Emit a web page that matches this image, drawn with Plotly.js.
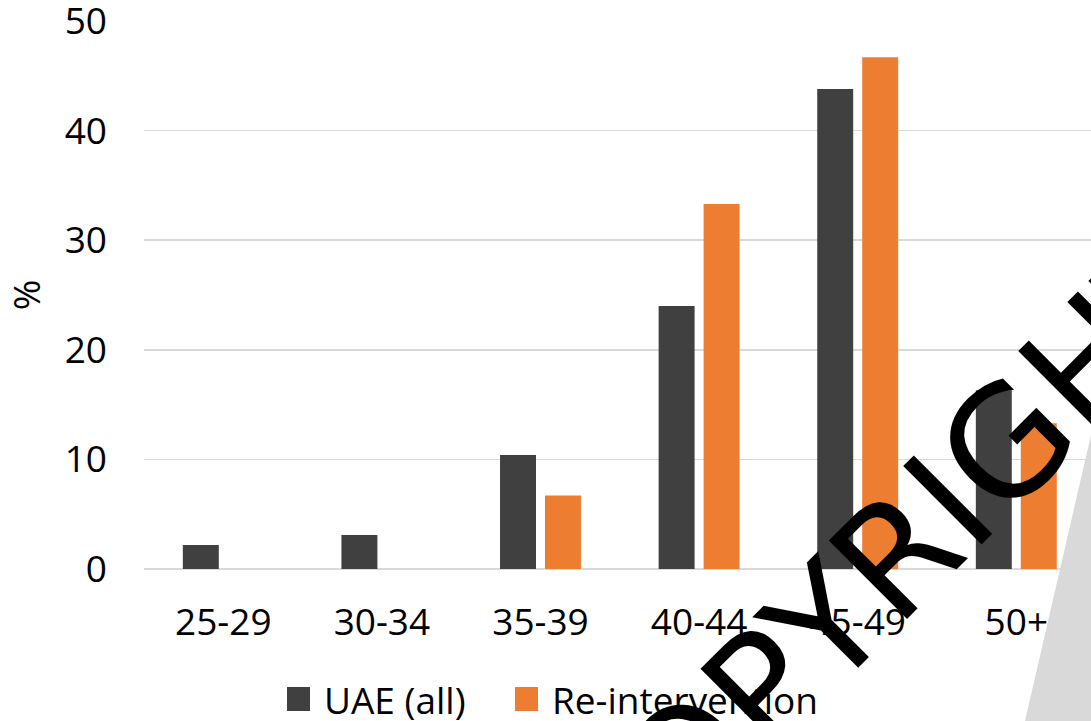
<!DOCTYPE html>
<html>
<head>
<meta charset="utf-8">
<script src="https://cdn.plot.ly/plotly-3.0.1.min.js"></script>
<style>
  html, body { margin: 0; padding: 0; background: #ffffff; overflow: hidden; }
  #chart { width: 1091px; height: 721px; }
</style>
</head>
<body>
<div id="chart"></div>
<script>
// Age groups and the share (%) of each series falling in them
const categories = ['25-29', '30-34', '35-39', '40-44', '45-49', '50+'];
const uaeAll = [2.2, 3.1, 10.4, 24.0, 43.8, 16.3];
const reIntervention = [0, 0, 6.7, 33.3, 46.7, 13.3];

const seriesNames = ['UAE (all)', 'Re-intervention'];
const seriesColors = ['#404040', '#ED7D31'];
const yTickValues = [0, 10, 20, 30, 40, 50];
const yTitle = '%';
const stampText = 'COPYRIGHT';

// Page geometry in pixels
const W = 1091, H = 721;
const M = { l: 144, r: 0, t: 21, b: 152 };
const plotW = W - M.l - M.r, plotH = H - M.t - M.b;
const fx = p => (p - M.l) / plotW;          // pixel x -> paper x
const fy = p => (H - M.b - p) / plotH;      // pixel y -> paper y

const FONT = 'Open Sans, Lato, sans-serif';
const FS = 37;

const traces = [
  { type: 'bar', name: seriesNames[0], x: categories, y: uaeAll,
    marker: { color: seriesColors[0] }, showlegend: false, hoverinfo: 'x+y+name' },
  { type: 'bar', name: seriesNames[1], x: categories, y: reIntervention,
    marker: { color: seriesColors[1] }, showlegend: false, hoverinfo: 'x+y+name' }
];

// Legend row drawn below the axis: swatch + label per series
const legendSwatchX = [287, 515];
const legendLabelX = [322, 550];
const legendY = 699;
const shapes = [];
const annotations = [];
seriesNames.forEach((name, i) => {
  shapes.push({
    type: 'rect', xref: 'paper', yref: 'paper',
    x0: fx(legendSwatchX[i]), x1: fx(legendSwatchX[i] + 23),
    y0: fy(legendY - 12), y1: fy(legendY + 12),
    fillcolor: seriesColors[i], line: { width: 0 }
  });
  annotations.push({
    xref: 'paper', yref: 'paper', x: fx(legendLabelX[i]), y: fy(legendY),
    xanchor: 'left', yanchor: 'middle', showarrow: false, height: 42,
    text: name, font: { family: FONT, size: FS, color: '#000000' }
  });
});

// Grey corner wedge and the diagonal stamp lettering
shapes.push({
  type: 'path', xref: 'paper', yref: 'paper', layer: 'above',
  path: `M ${fx(1025)} ${fy(721)} L ${fx(1091)} ${fy(435)} L ${fx(1091)} ${fy(721)} Z`,
  fillcolor: '#d9d9d9', line: { width: 0 }
});
annotations.push({
  xref: 'paper', yref: 'paper', x: fx(883), y: fy(568),
  xanchor: 'center', yanchor: 'middle', showarrow: false,
  text: stampText, textangle: -45,
  font: { family: 'DejaVu Sans, sans-serif', size: 152, color: '#000000' }
});

const layout = {
  width: W, height: H,
  margin: M,
  paper_bgcolor: '#ffffff', plot_bgcolor: '#ffffff',
  font: { family: FONT, size: FS, color: '#000000' },
  barmode: 'group',
  bargap: 0.433,
  bargroupgap: 0.2,
  showlegend: false,
  xaxis: {
    type: 'category',
    range: [-0.5, 5.471],
    showgrid: false, zeroline: false, showline: false,
    ticks: '', ticklabelstandoff: 28,
    tickfont: { family: FONT, size: FS, color: '#000000' },
    fixedrange: true
  },
  yaxis: {
    range: [0, 50],
    tickvals: yTickValues,
    ticklabeloverflow: 'allow',
    showgrid: true, gridcolor: '#d9d9d9', gridwidth: 1.5,
    zeroline: true, zerolinecolor: '#d9d9d9', zerolinewidth: 2,
    showline: false, ticks: '', ticklabelstandoff: 36,
    tickfont: { family: FONT, size: FS, color: '#000000' },
    title: { text: yTitle, font: { family: FONT, size: FS, color: '#000000' }, standoff: 20 },
    automargin: false,
    fixedrange: true
  },
  shapes: shapes,
  annotations: annotations
};

Plotly.newPlot('chart', traces, layout, { staticPlot: true, displayModeBar: false });
</script>
</body>
</html>
